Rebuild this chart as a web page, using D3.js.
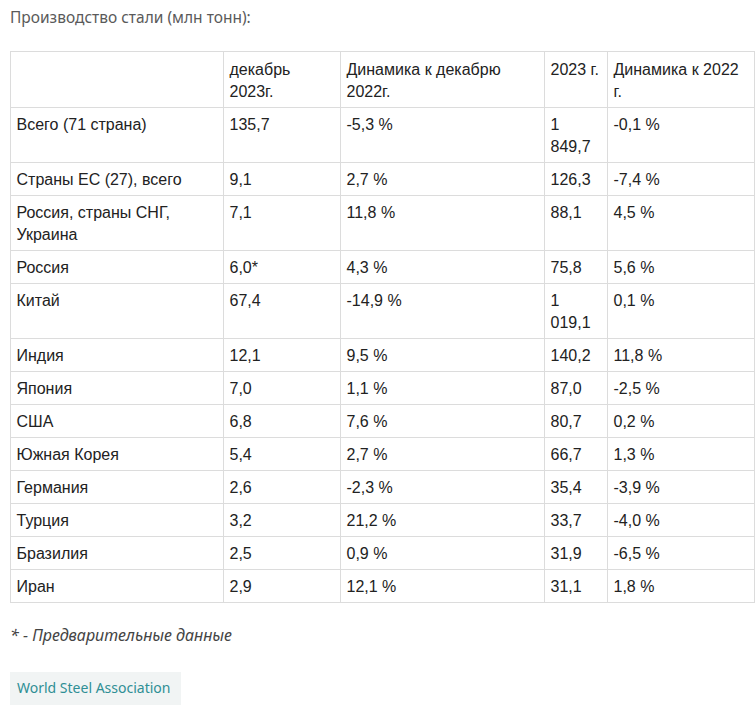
<!DOCTYPE html>
<html><head><meta charset="utf-8">
<script src="https://cdn.jsdelivr.net/npm/d3@7"></script>
<style>
html,body{margin:0;padding:0;background:#fff;}
svg{display:block;}
</style></head>
<body>
<svg id="chart" width="756" height="713"></svg>
<script>
const title = "Производство стали (млн тонн):";
const headers = ["", "декабрь 2023г.", "Динамика к декабрю 2022г.", "2023 г.", "Динамика к 2022 г."];
const regions = ["Всего (71 страна)", "Страны ЕС (27), всего", "Россия, страны СНГ, Украина", "Россия", "Китай", "Индия", "Япония", "США", "Южная Корея", "Германия", "Турция", "Бразилия", "Иран"];
const dec2023 = ["135,7", "9,1", "7,1", "6,0*", "67,4", "12,1", "7,0", "6,8", "5,4", "2,6", "3,2", "2,5", "2,9"];
const dynDec = ["-5,3 %", "2,7 %", "11,8 %", "4,3 %", "-14,9 %", "9,5 %", "1,1 %", "7,6 %", "2,7 %", "-2,3 %", "21,2 %", "0,9 %", "12,1 %"];
const year2023 = ["1 849,7", "126,3", "88,1", "75,8", "1 019,1", "140,2", "87,0", "80,7", "66,7", "35,4", "33,7", "31,9", "31,1"];
const dynYear = ["-0,1 %", "-7,4 %", "4,5 %", "5,6 %", "0,1 %", "11,8 %", "-2,5 %", "0,2 %", "1,3 %", "-3,9 %", "-4,0 %", "-6,5 %", "1,8 %"];
const footnote = "* - Предварительные данные";
const source = "World Steel Association";

const svg = d3.select("#chart");
const FONT = "Liberation Sans, Arial, sans-serif";
const FS = 16, LH = 22, PADX = 6.5, PADTOP = 23;
const colEdges = [10, 223, 340, 544, 607, 754];
const tableTop = 51;
const border = "#dcdcdc";

svg.append("text").attr("x", 10).attr("y", 23)
  .attr("font-family", "Noto Sans, Open Sans, sans-serif").attr("font-size", 15.5)
  .attr("fill", "#5a5a5a").text(title);

const measurer = svg.append("text").attr("font-family", FONT).attr("font-size", FS).attr("visibility", "hidden");
function textWidth(s){ measurer.text(s); return measurer.node().getComputedTextLength(); }
function wrap(s, w){
  if (!s) return [""];
  const words = s.split(" "); const lines = []; let cur = "";
  words.forEach(wd => {
    const t = cur ? cur + " " + wd : wd;
    if (cur && textWidth(t) > w) { lines.push(cur); cur = wd; } else cur = t;
  });
  lines.push(cur); return lines;
}

const rows = [headers].concat(regions.map((r, i) => [r, dec2023[i], dynDec[i], year2023[i], dynYear[i]]));
const wrapped = rows.map(r => r.map((c, j) => wrap(c, colEdges[j+1] - colEdges[j] - 2*PADX + 1)));
const rowH = wrapped.map((r, i) => (i === 0 ? 1 : 0) + 11 + LH * d3.max(r, c => c.length));
const rowTops = [tableTop];
rowH.forEach(h => rowTops.push(rowTops[rowTops.length-1] + h));
measurer.remove();

const g = svg.append("g");
const tableBottom = rowTops[rowTops.length-1];
rowTops.forEach(y => g.append("line").attr("x1", colEdges[0]).attr("x2", colEdges[5] + 1)
  .attr("y1", y + 0.5).attr("y2", y + 0.5).attr("stroke", border));
colEdges.forEach(x => g.append("line").attr("x1", x + 0.5).attr("x2", x + 0.5)
  .attr("y1", tableTop).attr("y2", tableBottom + 1).attr("stroke", border));

wrapped.forEach((r, i) => {
  r.forEach((lines, j) => {
    const t = g.append("text").attr("font-family", FONT).attr("font-size", FS).attr("fill", "#222");
    lines.forEach((ln, k) => t.append("tspan").attr("x", colEdges[j] + PADX)
      .attr("y", rowTops[i] + PADTOP + (i === 0 ? 1 : 0) + k * LH).text(ln));
  });
});

svg.append("text").attr("x", 10).attr("y", tableBottom + 39)
  .attr("font-family", "Noto Sans, Open Sans, sans-serif").attr("font-size", 16)
  .attr("font-style", "italic").attr("fill", "#444").text(footnote);

svg.append("rect").attr("x", 10).attr("y", 672).attr("width", 171).attr("height", 33).attr("fill", "#f1f4f4");
svg.append("text").attr("x", 17).attr("y", 693)
  .attr("font-family", "Noto Sans, Open Sans, sans-serif").attr("font-size", 14)
  .attr("fill", "#2f8f95").text(source);
</script>
</body></html>
